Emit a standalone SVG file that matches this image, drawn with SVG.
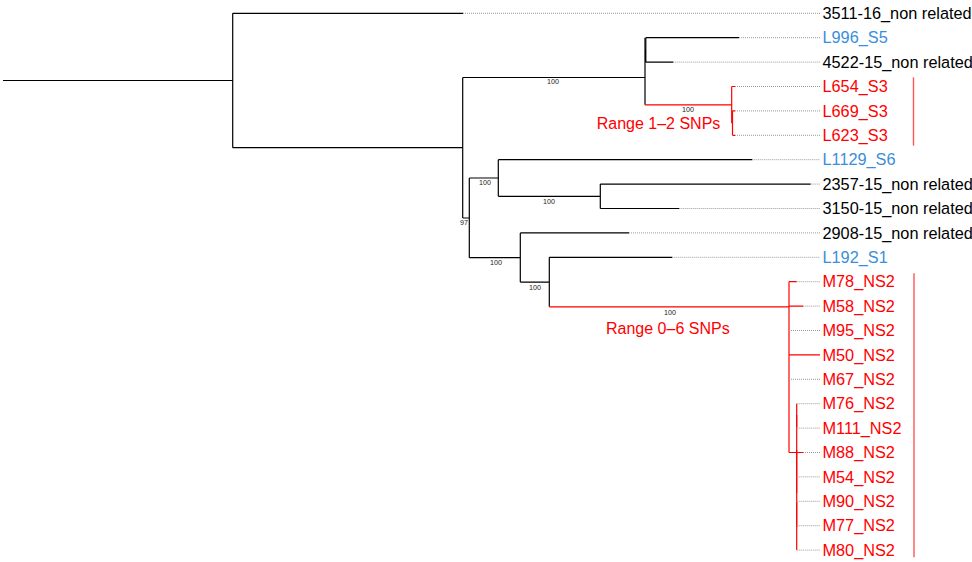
<svg xmlns="http://www.w3.org/2000/svg" width="972" height="562" viewBox="0 0 972 562">
<style>
.b{stroke:#000;stroke-width:1.2;fill:none}
.r{stroke:#ff0000;stroke-width:1.2;fill:none}
.d{stroke:#999;stroke-width:1;stroke-dasharray:1,1;fill:none}
.bar{stroke:#ff5555;stroke-width:1.4}
text{font-family:"Liberation Sans",Arial,sans-serif}
.t{font-size:16.3px}
.k{fill:#000}
.bl{fill:#3a8edb}
.rd{fill:#ff0000}
.bs{font-size:7.2px;fill:#222;text-anchor:middle}
.rg{font-size:16px;fill:#ff0000}
</style>
<g id="connectors">
<path class="b" d="M3,80.5H232.7M232.7,13.3V147.7M232.7,13.3H463M232.7,147.7H462.7"/>
<path class="b" d="M462.7,77.5V218M462.7,77.5H645M462.7,218H469.3"/>
<path class="b" d="M645,49.9V104.8M645,49.9H645.8M645.8,37.7V62.1M645.8,37.7H739M645.8,62.1H673.3"/>
<path class="b" d="M645,37.7V49.9" stroke-width="1"/>
<path class="r" d="M645,104.8H731.7M731.7,86.5V123.1M731.7,86.5H735M731.7,123.1H732.5M732.5,110.9V135.3M732.5,110.9H735M732.5,135.3H735"/>
<path class="b" d="M469.3,178V257.7M469.3,178H498.3M469.3,257.7H520.3"/>
<path class="b" d="M498.3,159.7V196.3M498.3,159.7H752.3M498.3,196.3H600.3M600.3,184.1V208.5M600.3,184.1H810.7M600.3,208.5H679.3"/>
<path class="b" d="M520.3,232.9V282.1M520.3,232.9H629M520.3,282.1H549.3M549.3,257.3V306.8M549.3,257.3H672.3"/>
<path class="r" d="M549.3,306.8H789M789,281.7V452.5M789,281.7H796.7M789,306.1H803.3M789,354.9H820M789,452.5H796.7M796.7,403.7V550.1M796.7,452.5H803"/>
<path class="r" d="M796.7,415V427M796.7,450V493M796.7,502V527" stroke-width="2.2"/>
<path class="d" d="M463,13.3H820M739,37.7H820M673.3,62.1H820M735,86.5H820M735,110.9H820M735,135.3H820M752.3,159.7H820M810.7,184.1H820M679.3,208.5H820M629,232.9H820M672.3,257.3H820M796.7,281.7H820M803.3,306.1H820M789,330.5H820M789,379.3H820M796.7,403.7H820M796.7,428.1H820M803,452.5H820M796.7,476.9H820M796.7,501.3H820M796.7,525.7H820M796.7,550.1H820"/>
</g>
<g id="support">
<text class="bs" x="553" y="83.5">100</text>
<text class="bs" x="688" y="111.5">100</text>
<text class="bs" x="464" y="224.5">97</text>
<text class="bs" x="485" y="184.5">100</text>
<text class="bs" x="549" y="203.5">100</text>
<text class="bs" x="496" y="264.5">100</text>
<text class="bs" x="535" y="289.5">100</text>
<text class="bs" x="670" y="314.5">100</text>
</g>
<g id="clade-S3">
<text class="rg" x="596.7" y="129">Range 1–2 SNPs</text>
<line class="bar" x1="913.5" y1="77.3" x2="913.5" y2="145.7"/>
</g>
<g id="clade-NS2">
<text class="rg" x="606" y="334.3">Range 0–6 SNPs</text>
<line class="bar" x1="914" y1="273.3" x2="914" y2="557.3"/>
</g>
<g id="tips" class="t">
<g id="tip-3511-16"><text class="k" x="822.5" y="19">3511-16_non related</text></g>
<g id="tip-L996_S5"><text class="bl" x="822.5" y="43.4">L996_S5</text></g>
<g id="tip-4522-15"><text class="k" x="822.5" y="67.8">4522-15_non related</text></g>
<g id="tip-L654_S3"><text class="rd" x="822.5" y="92.2">L654_S3</text></g>
<g id="tip-L669_S3"><text class="rd" x="822.5" y="116.6">L669_S3</text></g>
<g id="tip-L623_S3"><text class="rd" x="822.5" y="141">L623_S3</text></g>
<g id="tip-L1129_S6"><text class="bl" x="822.5" y="165.4">L1129_S6</text></g>
<g id="tip-2357-15"><text class="k" x="822.5" y="189.8">2357-15_non related</text></g>
<g id="tip-3150-15"><text class="k" x="822.5" y="214.2">3150-15_non related</text></g>
<g id="tip-2908-15"><text class="k" x="822.5" y="238.6">2908-15_non related</text></g>
<g id="tip-L192_S1"><text class="bl" x="822.5" y="263">L192_S1</text></g>
<g id="tip-M78_NS2"><text class="rd" x="822.5" y="287.4">M78_NS2</text></g>
<g id="tip-M58_NS2"><text class="rd" x="822.5" y="311.8">M58_NS2</text></g>
<g id="tip-M95_NS2"><text class="rd" x="822.5" y="336.2">M95_NS2</text></g>
<g id="tip-M50_NS2"><text class="rd" x="822.5" y="360.6">M50_NS2</text></g>
<g id="tip-M67_NS2"><text class="rd" x="822.5" y="385">M67_NS2</text></g>
<g id="tip-M76_NS2"><text class="rd" x="822.5" y="409.4">M76_NS2</text></g>
<g id="tip-M111_NS2"><text class="rd" x="822.5" y="433.8">M111_NS2</text></g>
<g id="tip-M88_NS2"><text class="rd" x="822.5" y="458.2">M88_NS2</text></g>
<g id="tip-M54_NS2"><text class="rd" x="822.5" y="482.6">M54_NS2</text></g>
<g id="tip-M90_NS2"><text class="rd" x="822.5" y="507">M90_NS2</text></g>
<g id="tip-M77_NS2"><text class="rd" x="822.5" y="531.4">M77_NS2</text></g>
<g id="tip-M80_NS2"><text class="rd" x="822.5" y="555.8">M80_NS2</text></g>
</g>
</svg>
